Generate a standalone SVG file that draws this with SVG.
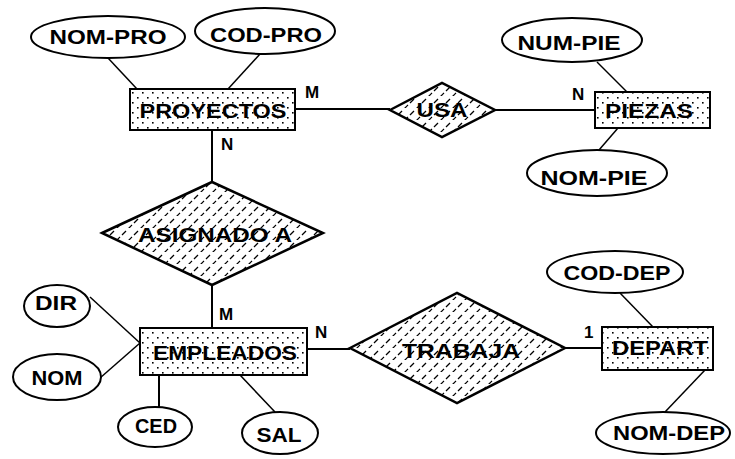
<svg xmlns="http://www.w3.org/2000/svg" width="735" height="459" viewBox="0 0 735 459">
<defs>
  <pattern id="dots" width="10" height="10" patternUnits="userSpaceOnUse">
    <rect x="2" y="2" width="1.6" height="1.6" fill="#000"/>
    <rect x="7" y="7" width="1.6" height="1.6" fill="#000"/>
  </pattern>
  <pattern id="hatch" width="12" height="12" patternUnits="userSpaceOnUse">
    <line x1="2" y1="7" x2="6" y2="3" stroke="#000" stroke-width="1.2"/>
    <line x1="8" y1="13" x2="12" y2="9" stroke="#000" stroke-width="1.2"/>
    <line x1="-4" y1="13" x2="0" y2="9" stroke="#000" stroke-width="1.2"/>
  </pattern>
  <style>
    .ent{fill:url(#dots);stroke:#000;stroke-width:2}
    .rel{fill:url(#hatch);stroke:#000;stroke-width:2.5}
    .att{fill:#fff;stroke:#000;stroke-width:2}
    .ln{stroke:#000;stroke-width:1.5;fill:none}
    .lnb{stroke:#000;stroke-width:2;fill:none}
    text{font-family:"Liberation Sans",Arial,sans-serif;font-weight:bold;fill:#000}
    .t{font-size:20px;text-anchor:middle}
    .c{font-size:17px}
  </style>
</defs>
<g id="connectors">
  <line class="ln" x1="108" y1="58" x2="137" y2="89"/>
  <line class="ln" x1="260" y1="54" x2="228" y2="89"/>
  <line class="lnb" x1="295" y1="109" x2="390" y2="109"/>
  <line class="lnb" x1="495" y1="110" x2="595" y2="110"/>
  <line class="ln" x1="597" y1="62" x2="627" y2="92"/>
  <line class="ln" x1="618" y1="128" x2="599" y2="150"/>
  <line class="lnb" x1="212" y1="130" x2="212" y2="182"/>
  <line class="lnb" x1="212" y1="285" x2="212" y2="328"/>
  <line class="ln" x1="90" y1="297" x2="140" y2="343"/>
  <line class="ln" x1="100" y1="378" x2="140" y2="343"/>
  <line class="lnb" x1="159" y1="375" x2="159" y2="407"/>
  <line class="ln" x1="240" y1="375" x2="275" y2="412"/>
  <line class="lnb" x1="307" y1="349" x2="350" y2="349"/>
  <line class="lnb" x1="565" y1="348" x2="602" y2="348"/>
  <line class="ln" x1="620" y1="293" x2="653" y2="327"/>
  <line class="ln" x1="705" y1="370" x2="665" y2="412"/>
</g>
<g id="nom-pro"><ellipse class="att" cx="108" cy="37" rx="77" ry="21"/><text class="t" x="108" y="44" textLength="117" lengthAdjust="spacingAndGlyphs">NOM-PRO</text></g>
<g id="cod-pro"><ellipse class="att" cx="265" cy="31" rx="70" ry="23"/><text class="t" x="266" y="42" textLength="112" lengthAdjust="spacingAndGlyphs">COD-PRO</text></g>
<g id="proyectos"><rect class="ent" x="130" y="89" width="165" height="41"/><text class="t" x="213" y="118" textLength="147" lengthAdjust="spacingAndGlyphs">PROYECTOS</text></g>
<g id="usa"><polygon class="rel" points="390,110 442,83 495,110 442,137"/><text class="t" x="442" y="117" textLength="51" lengthAdjust="spacingAndGlyphs">USA</text></g>
<g id="piezas"><rect class="ent" x="595" y="92" width="115" height="36"/><text class="t" x="649" y="118" textLength="88" lengthAdjust="spacingAndGlyphs">PIEZAS</text></g>
<g id="num-pie"><ellipse class="att" cx="572" cy="40" rx="70" ry="22"/><text class="t" x="569" y="50" textLength="103" lengthAdjust="spacingAndGlyphs">NUM-PIE</text></g>
<g id="nom-pie"><ellipse class="att" cx="597" cy="173" rx="70" ry="23"/><text class="t" x="594" y="185" textLength="107" lengthAdjust="spacingAndGlyphs">NOM-PIE</text></g>
<g id="asignado"><polygon class="rel" points="102,233 212,182 323,233 212,285"/><text class="t" x="215" y="242" textLength="154" lengthAdjust="spacingAndGlyphs">ASIGNADO A</text></g>
<g id="empleados"><rect class="ent" x="140" y="328" width="167" height="47"/><text class="t" x="225" y="360" textLength="144" lengthAdjust="spacingAndGlyphs">EMPLEADOS</text></g>
<g id="dir"><ellipse class="att" cx="57" cy="306" rx="33" ry="21"/><text class="t" x="56" y="310" textLength="42" lengthAdjust="spacingAndGlyphs">DIR</text></g>
<g id="nom"><ellipse class="att" cx="57" cy="377" rx="44" ry="23"/><text class="t" x="57" y="385" textLength="51" lengthAdjust="spacingAndGlyphs">NOM</text></g>
<g id="ced"><ellipse class="att" cx="155" cy="427" rx="37" ry="20"/><text class="t" x="156" y="433" textLength="42" lengthAdjust="spacingAndGlyphs">CED</text></g>
<g id="sal"><ellipse class="att" cx="280" cy="433" rx="38" ry="21"/><text class="t" x="279" y="442" textLength="45" lengthAdjust="spacingAndGlyphs">SAL</text></g>
<g id="trabaja"><polygon class="rel" points="350,348 457,293 565,348 457,403"/><text class="t" x="461" y="358" textLength="118" lengthAdjust="spacingAndGlyphs">TRABAJA</text></g>
<g id="depart"><rect class="ent" x="602" y="327" width="111" height="43"/><text class="t" x="660" y="355" textLength="96" lengthAdjust="spacingAndGlyphs">DEPART</text></g>
<g id="cod-dep"><ellipse class="att" cx="615" cy="272" rx="68" ry="21"/><text class="t" x="617" y="280" textLength="107" lengthAdjust="spacingAndGlyphs">COD-DEP</text></g>
<g id="nom-dep"><ellipse class="att" cx="663" cy="433" rx="67" ry="21"/><text class="t" x="669" y="440" textLength="112" lengthAdjust="spacingAndGlyphs">NOM-DEP</text></g>
<g id="labels">
  <text class="c" x="305" y="98">M</text>
  <text class="c" x="221" y="150">N</text>
  <text class="c" x="572" y="100">N</text>
  <text class="c" x="219" y="320">M</text>
  <text class="c" x="315" y="338">N</text>
  <text class="c" x="584" y="338">1</text>
</g>
</svg>
